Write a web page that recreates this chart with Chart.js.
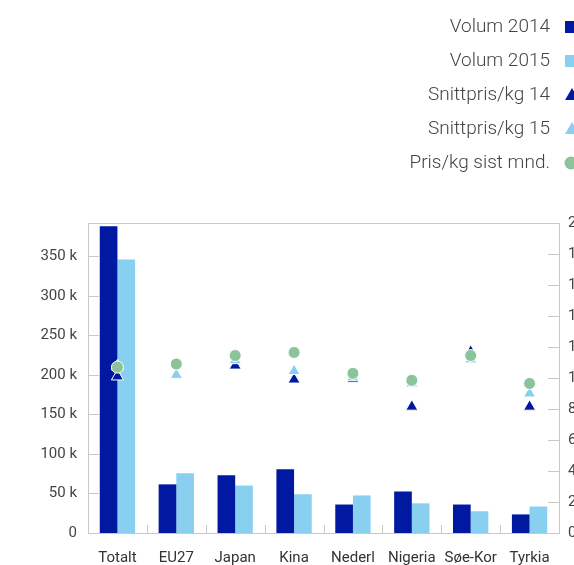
<!DOCTYPE html>
<html>
<head>
<meta charset="utf-8">
<script src="https://cdn.jsdelivr.net/npm/chart.js@4.4.1/dist/chart.umd.min.js"></script>
<style>
  html, body { margin: 0; padding: 0; background: #fff; overflow: hidden; }
  #wrap { width: 600px; height: 565px; }
</style>
</head>
<body>
<div id="wrap"><canvas id="chart" width="600" height="565"></canvas></div>
<script>
const categories = ["Totalt", "EU27", "Japan", "Kina", "Nederl", "Nigeria", "Søe-Kor", "Tyrkia"];
const volum2014 = [388000, 61500, 73000, 80500, 36000, 52500, 36000, 23500];
const volum2015 = [346000, 75500, 60000, 49000, 47500, 37500, 27500, 33500];
const snittpris14 = [10.1, 10.2, 10.8, 9.9, 9.95, 8.15, 11.7, 8.15];
const snittpris15 = [10.75, 10.2, 11.15, 10.45, 10.05, 9.65, 11.2, 9.0];
const prisSistMnd = [10.7, 10.9, 11.45, 11.65, 10.3, 9.85, 11.45, 9.65];
const volumTicks = [0, 50000, 100000, 150000, 200000, 250000, 300000, 350000];
const prisTicks = [0, 2, 4, 6, 8, 10, 12, 14, 16, 18, 20];

const darkBlue = "#0019a0";
const lightBlue = "#89cff0";
const green = "#8cc49a";

Chart.defaults.font.family = "Roboto";
Chart.defaults.font.size = 15;
Chart.defaults.color = "#333";

// frame, inner tick marks and category separators
const framePlugin = {
  id: "frame",
  afterDraw(chart) {
    const ctx = chart.ctx;
    const a = chart.chartArea;
    ctx.save();
    ctx.strokeStyle = "#c8c8c8";
    ctx.lineWidth = 1;
    ctx.strokeRect(Math.round(a.left) + 0.5, Math.round(a.top) + 0.5,
      Math.round(a.right - a.left), Math.round(a.bottom - a.top));
    ctx.beginPath();
    chart.scales.y.ticks.forEach(t => {
      if (t.value <= 0) return;
      const y = Math.round(chart.scales.y.getPixelForValue(t.value)) + 0.5;
      ctx.moveTo(a.left, y);
      ctx.lineTo(a.left + 12, y);
    });
    chart.scales.y1.ticks.forEach(t => {
      if (t.value <= 0 || t.value >= 20) return;
      const y = Math.round(chart.scales.y1.getPixelForValue(t.value)) + 0.5;
      ctx.moveTo(a.right - 11, y);
      ctx.lineTo(a.right, y);
    });
    const x = chart.scales.x;
    for (let i = 1; i < categories.length; i++) {
      const px = Math.round((x.getPixelForValue(i - 1) + x.getPixelForValue(i)) / 2) + 0.5;
      ctx.moveTo(px, a.bottom);
      ctx.lineTo(px, a.bottom - 8);
    }
    ctx.stroke();
    ctx.restore();
  }
};

// legend: text right aligned, symbol on the right
const sideLegend = {
  id: "sideLegend",
  afterDraw(chart) {
    const ctx = chart.ctx;
    const order = [3, 4, 2, 1, 0];
    ctx.save();
    ctx.font = "300 19px Roboto";
    ctx.textAlign = "right";
    ctx.textBaseline = "middle";
    order.forEach((di, row) => {
      const ds = chart.data.datasets[di];
      const y = 27 + row * 34;
      ctx.fillStyle = "#444";
      ctx.fillText(ds.label, 550, y);
      ctx.fillStyle = ds.backgroundColor;
      if (ds.type === "bar") {
        ctx.fillRect(565, y - 6, 12, 12);
      } else if (ds.pointStyle === "triangle") {
        Chart.helpers.drawPoint(ctx, { pointStyle: "triangle", radius: 8, borderWidth: 0 }, 572, y + 1);
      } else {
        Chart.helpers.drawPoint(ctx, { pointStyle: "circle", radius: 6.5, borderWidth: 0 }, 571, y);
      }
    });
    ctx.restore();
  }
};

new Chart(document.getElementById("chart"), {
  data: {
    labels: categories,
    datasets: [
      {
        type: "line", label: "Pris/kg sist mnd.", data: prisSistMnd, yAxisID: "y1",
        showLine: false, pointStyle: "circle", pointRadius: 6, pointHoverRadius: 6,
        backgroundColor: green, borderColor: "#fff", pointBorderWidth: 1, order: 1
      },
      {
        type: "line", label: "Snittpris/kg 15", data: snittpris15, yAxisID: "y1",
        showLine: false, pointStyle: "triangle", pointRadius: 7, pointHoverRadius: 7,
        backgroundColor: lightBlue, borderColor: "#fff", pointBorderWidth: 1, order: 2
      },
      {
        type: "line", label: "Snittpris/kg 14", data: snittpris14, yAxisID: "y1",
        showLine: false, pointStyle: "triangle", pointRadius: 7, pointHoverRadius: 7,
        backgroundColor: darkBlue, borderColor: "#fff", pointBorderWidth: 1, order: 3
      },
      {
        type: "bar", label: "Volum 2014", data: volum2014, yAxisID: "y",
        backgroundColor: darkBlue, categoryPercentage: 0.6, barPercentage: 1.0, order: 4
      },
      {
        type: "bar", label: "Volum 2015", data: volum2015, yAxisID: "y",
        backgroundColor: lightBlue, categoryPercentage: 0.6, barPercentage: 1.0, order: 5
      }
    ]
  },
  options: {
    responsive: false,
    animation: false,
    layout: { padding: { top: 223, left: 0, right: 0, bottom: 0 } },
    plugins: {
      legend: { display: false },
      tooltip: { enabled: false }
    },
    scales: {
      x: {
        offset: true,
        grid: { display: false, drawTicks: false },
        border: { display: false },
        ticks: { padding: 16, color: "#333" },
        afterFit(scale) { scale.height = 32; }
      },
      y: {
        position: "left",
        min: 0,
        max: 392000,
        grid: { display: false, drawTicks: false },
        border: { display: false },
        ticks: {
          padding: 11,
          color: "#444",
          callback: v => v === 0 ? "0" : (v / 1000) + " k"
        },
        afterBuildTicks(scale) { scale.ticks = volumTicks.map(v => ({ value: v })); },
        afterFit(scale) { scale.width = 88; }
      },
      y1: {
        position: "right",
        min: 0,
        max: 20,
        grid: { display: false, drawTicks: false },
        border: { display: false },
        ticks: { padding: 9, color: "#444" },
        afterBuildTicks(scale) { scale.ticks = prisTicks.map(v => ({ value: v })); },
        afterFit(scale) { scale.width = 41; }
      }
    }
  },
  plugins: [framePlugin, sideLegend]
});
</script>
</body>
</html>
